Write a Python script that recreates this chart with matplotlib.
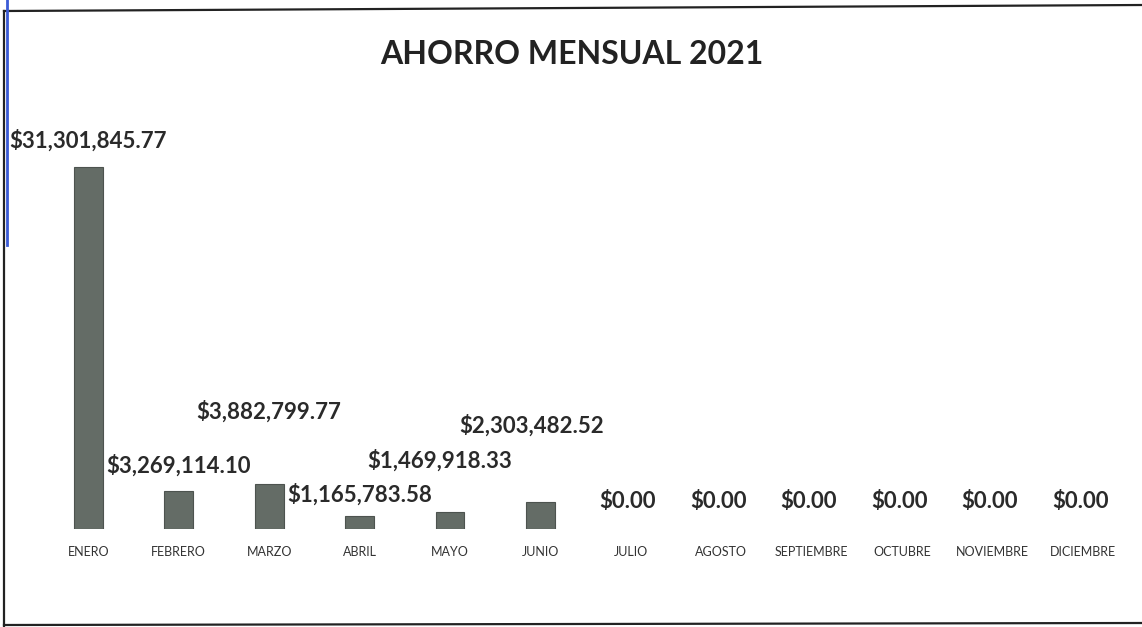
import matplotlib
matplotlib.use('Agg')
import matplotlib.pyplot as plt
from matplotlib.lines import Line2D

plt.rcParams['font.family'] = ['Lato', 'DejaVu Sans']

meses = ['ENERO', 'FEBRERO', 'MARZO', 'ABRIL', 'MAYO', 'JUNIO', 'JULIO',
         'AGOSTO', 'SEPTIEMBRE', 'OCTUBRE', 'NOVIEMBRE', 'DICIEMBRE']
ahorro = [31301845.77, 3269114.10, 3882799.77, 1165783.58, 1469918.33, 2303482.52,
          0, 0, 0, 0, 0, 0]

# desplazamiento de etiquetas (pixeles) como en el original
dx = [0, 0, 0, 0, -10, -9, -3, -3, -3, -3, -3, -3]
dy = [26, 26, 72, 21, 51, 77, 27, 27, 27, 27, 27, 27]

fig = plt.figure(figsize=(11.42, 6.27), dpi=100)
ax = fig.add_axes([0.0377, 0.1563, 0.9503, 0.6093])

x = range(len(meses))
bars = ax.bar(x, ahorro, width=0.32, color='#646c66', linewidth=0)
for b, v in zip(bars, ahorro):
    if v > 0:
        b.set_edgecolor('#4d534f')
        b.set_linewidth(0.8)

for i, v in enumerate(ahorro):
    ax.annotate('${:,.2f}'.format(v), xy=(i, v), xytext=(dx[i] * 0.72, dy[i] * 0.72),
                textcoords='offset points', ha='center', va='center',
                fontsize=16, fontweight='bold', color='#2a2a2a')

ax.set_xlim(-0.5, len(meses) - 0.5)
ax.set_ylim(0, 33000000)
ax.set_xticks(list(x))
ax.set_xticklabels(meses, fontsize=9, color='#333333')
ax.tick_params(axis='x', length=0, pad=12)
ax.set_yticks([])
for s in ax.spines.values():
    s.set_visible(False)

fig.text(0.501, 1 - 55 / 627, 'AHORRO MENSUAL 2021', ha='center', va='center',
         fontsize=23, fontweight='bold', color='#222222')

# marco del escaneo
fig.add_artist(Line2D([4 / 1142, 1], [1 - 11 / 627, 1 - 5 / 627], color='#222222', lw=1.6))
fig.add_artist(Line2D([4 / 1142, 4 / 1142], [1 - 11 / 627, 0], color='#222222', lw=1.6))
fig.add_artist(Line2D([4 / 1142, 1], [1 - 625 / 627, 1 - 623 / 627], color='#222222', lw=1.6))
fig.add_artist(Line2D([7 / 1142, 7 / 1142], [1, 1 - 245 / 627], color='#3b5bd6', lw=2))

fig.savefig('out.png', dpi=100, facecolor='white')
